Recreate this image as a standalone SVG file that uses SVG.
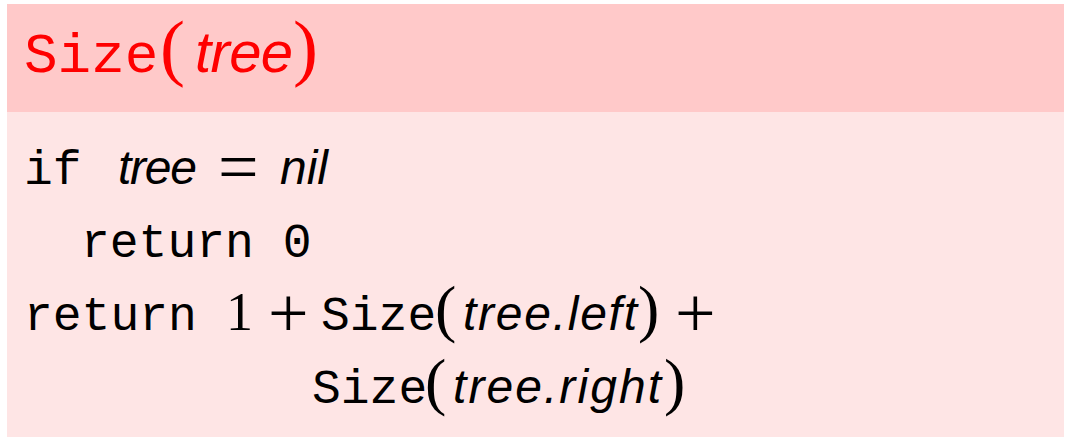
<svg xmlns="http://www.w3.org/2000/svg" width="1072" height="445" viewBox="0 0 1072 445">
<style>
.mono{font-family:"Liberation Mono","DejaVu Sans Mono",monospace;}
.it{font-family:"Liberation Sans","DejaVu Sans",sans-serif;font-style:italic;}
.rm{font-family:"Liberation Serif","DejaVu Serif",serif;}
.red{fill:#FF0000;}
.blk{fill:#000000;}
</style>
<rect x="0" y="0" width="1072" height="445" fill="#FFFFFF"/>
<g id="box">
<rect x="7" y="4" width="1057" height="108" fill="#FFC9C9"/>
<rect x="7" y="112" width="1057" height="325" fill="#FEE5E5"/>
</g>
<g id="header" class="red">
<text class="mono" x="24" y="72" font-size="56">Size</text>
<text class="rm" x="160" y="72" font-size="75">(</text>
<text class="it" x="195" y="72" font-size="58" textLength="98">tree</text>
<text class="rm" x="293" y="72" font-size="75">)</text>
</g>
<g id="body" class="blk">
<text class="mono" x="24" y="184" font-size="48">if</text>
<text class="it" x="118" y="184" font-size="48" textLength="79">tree</text>
<text class="rm" x="218" y="191" font-size="72">=</text>
<text class="it" x="280" y="184" font-size="48" textLength="48">nil</text>
<text class="mono" x="81" y="257" font-size="48">return 0</text>
<text class="mono" x="24" y="330" font-size="48">return</text>
<text class="rm" x="226" y="330" font-size="54">1</text>
<text class="rm" x="268" y="337" font-size="72">+</text>
<text class="mono" x="321" y="330" font-size="48">Size</text>
<text class="rm" x="435" y="330" font-size="64">(</text>
<text class="it" x="463" y="330" font-size="48" textLength="174">tree.left</text>
<text class="rm" x="638" y="330" font-size="64">)</text>
<text class="rm" x="675" y="337" font-size="72">+</text>
<text class="mono" x="312" y="403" font-size="48">Size</text>
<text class="rm" x="425" y="403" font-size="64">(</text>
<text class="it" x="453" y="403" font-size="48" textLength="208">tree.right</text>
<text class="rm" x="664" y="403" font-size="64">)</text>
</g>
</svg>
